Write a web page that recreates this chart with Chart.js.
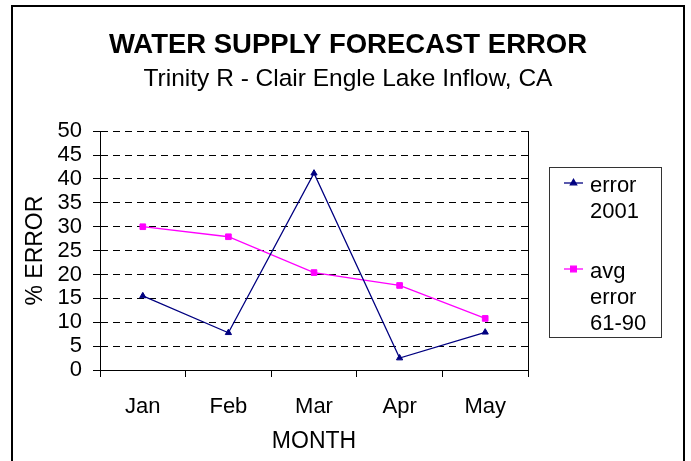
<!DOCTYPE html>
<html>
<head>
<meta charset="utf-8">
<script src="https://cdn.jsdelivr.net/npm/chart.js@4.4.1/dist/chart.umd.min.js"></script>
<style>
  html, body { margin: 0; padding: 0; background: #fff; overflow: hidden; }
  .chart-box { position: relative; width: 691px; height: 461px; }
</style>
</head>
<body>
<div class="chart-box"><canvas id="errorChart"></canvas></div>
<script>
// 图表数据
const months = ['Jan', 'Feb', 'Mar', 'Apr', 'May'];
const error2001 = [15.5, 7.8, 41.2, 2.5, 7.9];
const avgError6190 = [30.0, 27.9, 20.4, 17.7, 10.8];
const seriesNames = ['error 2001', 'avg error 61-90'];
const legendLines = [['error', '2001'], ['avg', 'error', '61-90']];
const yTicks = [0, 5, 10, 15, 20, 25, 30, 35, 40, 45, 50];

const FONT = "'Liberation Sans', Arial, sans-serif";

// 外框 + 图例 (Excel风格, 图例文字分行)
const frameLegend = {
    id: 'frameLegend',
    beforeDraw(chart) {
        const ctx = chart.ctx;
        ctx.save();
        ctx.fillStyle = '#fff';
        ctx.fillRect(0, 0, chart.width, chart.height);
        ctx.strokeStyle = '#000';
        ctx.lineWidth = 2;
        ctx.strokeRect(12, 6, 672, 460);
        ctx.restore();
    },
    afterDraw(chart) {
        const ctx = chart.ctx;
        ctx.save();
        ctx.strokeStyle = '#333';
        ctx.lineWidth = 1;
        ctx.strokeRect(549.5, 167.5, 112, 170);
        ctx.font = '22px ' + FONT;
        ctx.textBaseline = 'alphabetic';
        ctx.textAlign = 'left';
        const firstBase = [192, 278];
        chart.data.datasets.forEach((ds, i) => {
            const my = firstBase[i] - 9;
            ctx.strokeStyle = ds.borderColor;
            ctx.lineWidth = ds.borderWidth;
            ctx.beginPath();
            ctx.moveTo(564, my);
            ctx.lineTo(583, my);
            ctx.stroke();
            ctx.fillStyle = ds.pointBackgroundColor;
            ctx.strokeStyle = ds.borderColor;
            Chart.helpers.drawPoint(ctx, {pointStyle: ds.pointStyle, radius: ds.pointRadius, borderWidth: 1, rotation: 0}, 573.5, my);
            ctx.fillStyle = '#000';
            legendLines[i].forEach((t, j) => ctx.fillText(t, 590, firstBase[i] + j * 26));
        });
        ctx.restore();
    }
};

new Chart(document.getElementById('errorChart').getContext('2d'), {
    type: 'line',
    data: {
        labels: months,
        datasets: [{
            label: seriesNames[0],
            data: error2001,
            borderColor: '#000080',
            backgroundColor: '#000080',
            pointBackgroundColor: '#000080',
            borderWidth: 1.3,
            pointStyle: 'triangle',
            pointRadius: 3.6,
            pointBorderWidth: 1,
            tension: 0
        }, {
            label: seriesNames[1],
            data: avgError6190,
            borderColor: '#FF00FF',
            backgroundColor: '#FF00FF',
            pointBackgroundColor: '#FF00FF',
            borderWidth: 1.3,
            pointStyle: 'rect',
            pointRadius: 4,
            pointBorderWidth: 1,
            tension: 0
        }]
    },
    options: {
        responsive: true,
        maintainAspectRatio: false,
        animation: false,
        layout: { padding: { left: 5, right: 0, top: 0, bottom: 0 } },
        plugins: {
            legend: { display: false },
            tooltip: { enabled: false },
            title: {
                display: true,
                text: 'WATER SUPPLY FORECAST ERROR',
                color: '#000',
                font: { family: FONT, size: 27.5, weight: 'bold', lineHeight: 1.2 },
                padding: { top: 28.5, bottom: 2.8 }
            },
            subtitle: {
                display: true,
                text: 'Trinity R - Clair Engle Lake Inflow, CA',
                color: '#000',
                font: { family: FONT, size: 24.5, lineHeight: 1.2 },
                padding: { top: 0, bottom: 37.5 }
            }
        },
        scales: {
            x: {
                offset: true,
                grid: { display: true, offset: true, drawOnChartArea: false, drawTicks: true, tickLength: 7, color: '#000', tickColor: '#000' },
                border: { display: true, color: '#000', width: 1 },
                ticks: { color: '#000', padding: 17, font: { family: FONT, size: 22 }, maxRotation: 0 },
                title: { display: true, text: 'MONTH', color: '#000', font: { family: FONT, size: 23, lineHeight: 1.2 }, padding: { top: 0, bottom: 6 } },
                afterFit(scale) { scale.height = 91; }
            },
            y: {
                min: 0,
                max: 50,
                afterBuildTicks(scale) { scale.ticks = yTicks.map(v => ({ value: v })); },
                grid: { display: true, drawTicks: true, tickLength: 7, color: '#000', tickColor: '#000', tickBorderDash: [] },
                border: { display: true, color: '#000', width: 1, dash: [7, 5] },
                ticks: { color: '#000', padding: 11, autoSkip: false, font: { family: FONT, size: 22 } },
                title: { display: true, text: '% ERROR', color: '#000', font: { family: FONT, size: 23, lineHeight: 1.2 }, padding: { top: 16.5, bottom: 0 } },
                afterFit(scale) { scale.width = 95; }
            },
            // 右侧占位轴: 留出图例空间并画出绘图区右边线
            yRight: {
                position: 'right',
                min: 0,
                max: 50,
                grid: { display: false, drawTicks: false },
                border: { display: true, color: '#000', width: 1 },
                ticks: { display: false },
                afterFit(scale) { scale.width = 163; }
            }
        }
    },
    plugins: [frameLegend]
});
</script>
</body>
</html>
